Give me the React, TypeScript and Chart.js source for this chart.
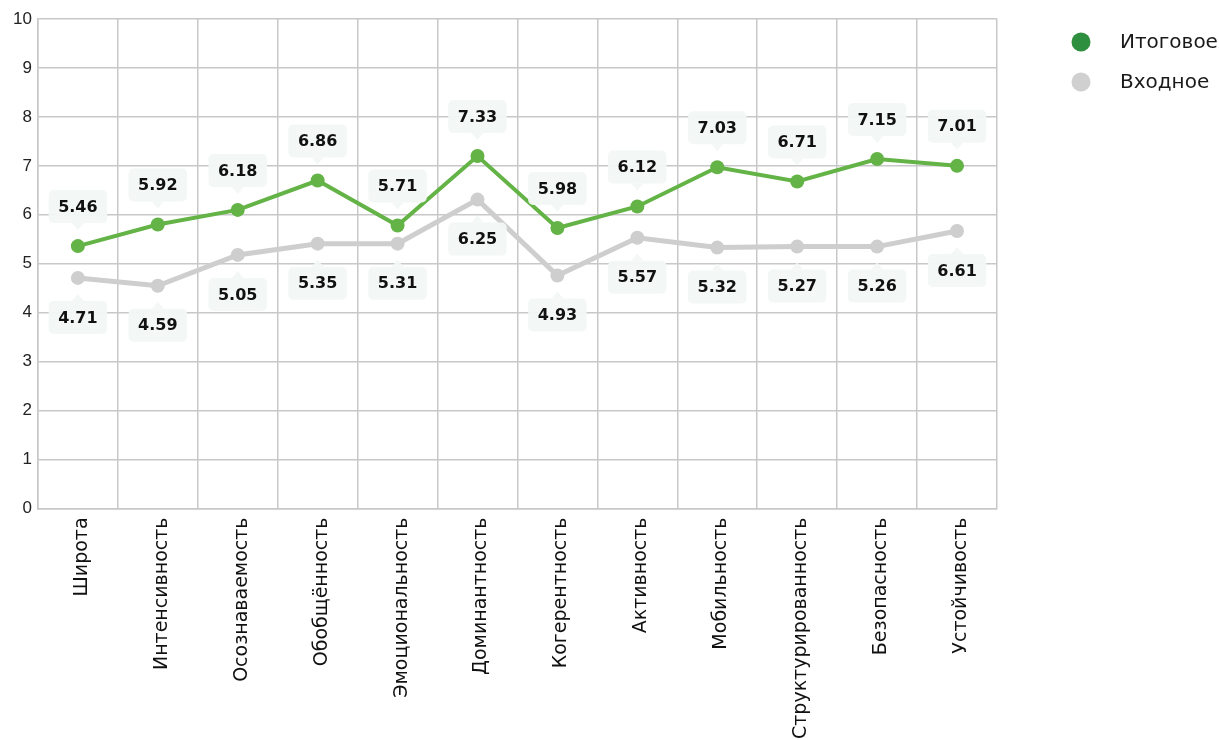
import React, { useEffect, useRef } from "react";
import { Chart, registerables } from "chart.js";

Chart.register(...registerables);

const categories = [
  "Широта",
  "Интенсивность",
  "Осознаваемость",
  "Обобщённость",
  "Эмоциональность",
  "Доминантность",
  "Когерентность",
  "Активность",
  "Мобильность",
  "Структурированность",
  "Безопасность",
  "Устойчивость",
];

const seriesNames = ["Итоговое", "Входное"];

const finalValues = [5.36, 5.8, 6.1, 6.7, 5.78, 7.2, 5.73, 6.17, 6.97, 6.68, 7.14, 7.0];
const finalLabels = ["5.46", "5.92", "6.18", "6.86", "5.71", "7.33", "5.98", "6.12", "7.03", "6.71", "7.15", "7.01"];

const inputValues = [4.71, 4.55, 5.18, 5.41, 5.41, 6.31, 4.76, 5.53, 5.33, 5.35, 5.35, 5.67];
const inputLabels = ["4.71", "4.59", "5.05", "5.35", "5.31", "6.25", "4.93", "5.57", "5.32", "5.27", "5.26", "6.61"];

const yMin = 0;
const yMax = 10;
const yStep = 1;

const lineColors = ["#63b346", "#cfcecf"];
const legendColors = ["#2e8f3e", "#d0d0d0"];

const calloutPlugin = {
  id: "callouts",
  afterDatasetsDraw(chart: any) {
    const ctx = chart.ctx;
    ctx.save();
    ctx.font = 'bold 16px "DejaVu Sans"';
    ctx.textAlign = "center";
    ctx.textBaseline = "middle";
    chart.data.datasets.forEach((ds: any, di: number) => {
      const meta = chart.getDatasetMeta(di);
      const texts: string[] = ds.calloutTexts;
      const dir = ds.calloutDir as number;
      meta.data.forEach((pt: any, i: number) => {
        const { x, y } = pt.getProps(["x", "y"], true);
        const t = texts[i];
        const tw = ctx.measureText(t).width;
        const w = tw + 19;
        const h = 33;
        const tipY = y + dir * 16;
        const edgeY = y + dir * 23;
        const top = dir < 0 ? edgeY - h : edgeY;
        ctx.fillStyle = "rgba(242,247,245,0.96)";
        ctx.beginPath();
        ctx.roundRect(x - w / 2, top, w, h, 5);
        ctx.fill();
        ctx.beginPath();
        ctx.moveTo(x - 6, edgeY);
        ctx.lineTo(x, tipY);
        ctx.lineTo(x + 6, edgeY);
        ctx.closePath();
        ctx.fill();
        ctx.fillStyle = "#111111";
        ctx.fillText(t, x, top + h / 2 + 1);
      });
    });
    ctx.restore();
  },
};

const legendPlugin = {
  id: "sideLegend",
  afterDraw(chart: any) {
    const ctx = chart.ctx;
    ctx.save();
    ctx.font = '20px "DejaVu Sans"';
    ctx.textAlign = "left";
    ctx.textBaseline = "middle";
    const cx = chart.chartArea.right + 84;
    chart.data.datasets.forEach((ds: any, i: number) => {
      const cy = 42 + i * 40;
      ctx.fillStyle = legendColors[i];
      ctx.beginPath();
      ctx.arc(cx, cy, 9.5, 0, Math.PI * 2);
      ctx.fill();
      ctx.fillStyle = "#1a1a1a";
      ctx.fillText(ds.label, cx + 39, cy + 1);
    });
    ctx.restore();
  },
};

export default function App() {
  const canvasRef = useRef<HTMLCanvasElement | null>(null);

  useEffect(() => {
    if (!canvasRef.current) return;
    const chart = new Chart(canvasRef.current, {
      type: "line",
      data: {
        labels: categories,
        datasets: [
          {
            label: seriesNames[0],
            data: finalValues,
            borderColor: lineColors[0],
            backgroundColor: lineColors[0],
            borderWidth: 4,
            pointRadius: 7,
            pointBorderWidth: 0,
            pointBackgroundColor: lineColors[0],
            tension: 0,
            calloutTexts: finalLabels,
            calloutDir: -1,
          } as any,
          {
            label: seriesNames[1],
            data: inputValues,
            borderColor: lineColors[1],
            backgroundColor: lineColors[1],
            borderWidth: 5,
            pointRadius: 7,
            pointBorderWidth: 0,
            pointBackgroundColor: lineColors[1],
            tension: 0,
            calloutTexts: inputLabels,
            calloutDir: 1,
          } as any,
        ],
      },
      options: {
        animation: false,
        responsive: true,
        maintainAspectRatio: false,
        layout: { padding: { left: 7, right: 222, top: 19, bottom: -8 } },
        plugins: {
          legend: { display: false },
          tooltip: { enabled: false },
        },
        scales: {
          x: {
            offset: true,
            grid: { color: "#c8c8c8", lineWidth: 1.5, drawTicks: false, offset: true },
            border: { color: "#c8c8c8", width: 1.5 },
            ticks: {
              autoSkip: false,
              minRotation: 90,
              maxRotation: 90,
              padding: 9,
              labelOffset: 4,
              color: "#111111",
              font: { family: '"DejaVu Sans"', size: 19 },
            },
          },
          y: {
            min: yMin,
            max: yMax,
            grid: { color: "#c8c8c8", lineWidth: 1.5, drawTicks: false },
            border: { color: "#c8c8c8", width: 1.5 },
            ticks: {
              stepSize: yStep,
              padding: 6,
              color: "#222222",
              font: { family: '"Liberation Sans"', size: 17 },
            },
          },
        },
      },
      plugins: [calloutPlugin, legendPlugin],
    });
    return () => chart.destroy();
  }, []);

  return (
    <div style={{ position: "fixed", left: 0, top: 0, width: 1219, height: 740, background: "#ffffff" }}>
      <canvas ref={canvasRef} />
    </div>
  );
}
